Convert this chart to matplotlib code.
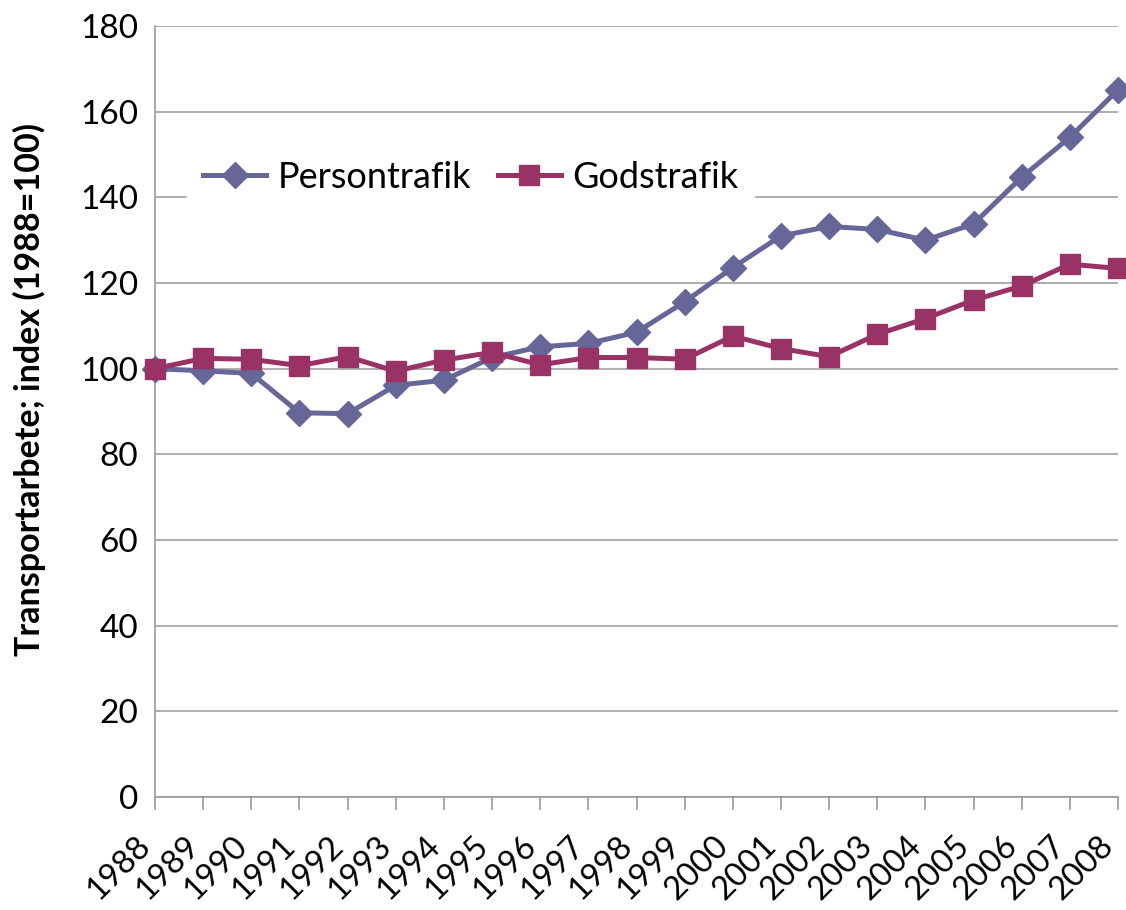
import matplotlib
matplotlib.use("Agg")
import matplotlib.pyplot as plt
from matplotlib.transforms import ScaledTranslation

years = list(range(1988, 2009))
year_labels = [str(y) for y in years]
persontrafik = [100, 99.5, 98.9, 89.7, 89.5, 96.1, 97.3, 102.6, 105.1, 105.9, 108.5,
                115.6, 123.6, 131.0, 133.2, 132.5, 130.0, 133.8, 144.7, 154.0, 165.1]
godstrafik = [100, 102.4, 102.2, 100.7, 102.8, 99.4, 102.0, 103.8, 100.9, 102.6, 102.6,
              102.2, 107.6, 104.7, 102.8, 108.0, 111.7, 116.0, 119.3, 124.4, 123.4]
y_ticks = [0, 20, 40, 60, 80, 100, 120, 140, 160, 180]

plt.rcParams['font.family'] = ['Lato', 'DejaVu Sans']

fig = plt.figure(figsize=(11.26, 9.10), dpi=100)
ax = fig.add_axes([155/1126, 1 - 797/910, (1118 - 155)/1126, (797 - 26)/910])

c1 = '#666699'
c2 = '#993366'
ax.plot(years, persontrafik, color=c1, lw=3.6, marker='D', markersize=13.5,
        label='Persontrafik', clip_on=False, zorder=3)
ax.plot(years, godstrafik, color=c2, lw=3.6, marker='s', markersize=15,
        label='Godstrafik', clip_on=False, zorder=4)

ax.set_xlim(years[0], years[-1])
ax.set_ylim(0, 180)
ax.set_yticks(y_ticks)
ax.set_xticks(years)
ax.set_xticklabels(year_labels, rotation=45, ha='right', va='center',
                   rotation_mode='anchor')
ax.tick_params(axis='x', length=9, width=1.2, color='#999999', labelsize=23.5, pad=23)
ax.tick_params(axis='y', length=0, labelsize=24, pad=12)
off = ScaledTranslation(-9/100, 0, fig.dpi_scale_trans)
for lab in ax.get_xticklabels():
    lab.set_transform(lab.get_transform() + off)

ax.grid(axis='y', color='#b0b0b0', lw=1.5)
ax.set_axisbelow(True)
for s in ['top', 'right']:
    ax.spines[s].set_visible(False)
ax.spines['left'].set_color('#999999')
ax.spines['bottom'].set_color('#999999')
ax.spines['left'].set_linewidth(1.2)
ax.spines['bottom'].set_linewidth(1.2)

ax.set_ylabel('Transportarbete; index (1988=100)', fontsize=24.5, fontweight='bold')
ax.yaxis.set_label_coords((46 - 155) / 963, (797 - 390) / 771)

leg = ax.legend(loc='upper left', bbox_to_anchor=(0.0145, 0.87), ncol=2, fontsize=26,
                frameon=True, fancybox=False, edgecolor='white', framealpha=1,
                handlelength=1.75, columnspacing=0.75, handletextpad=0.3,
                borderpad=0.45)

fig.savefig('out.png', dpi=100)
